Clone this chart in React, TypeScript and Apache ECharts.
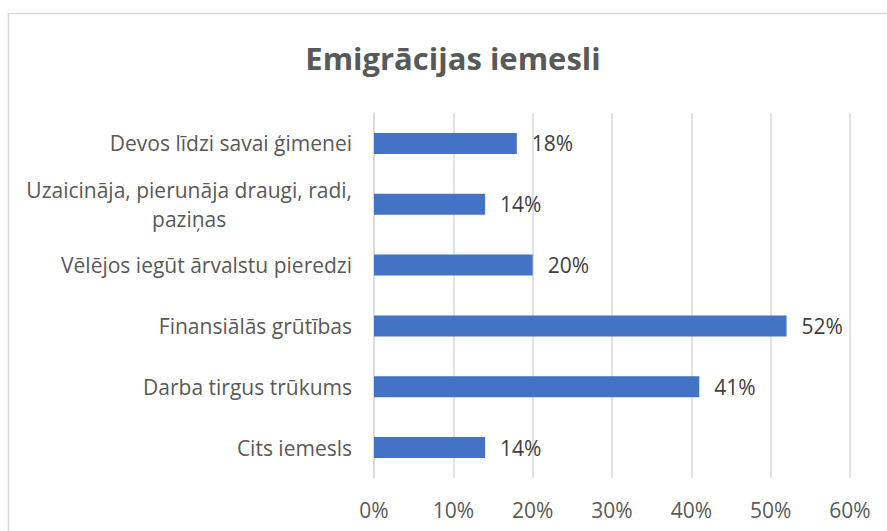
import React, { useEffect, useRef } from "react";
import * as echarts from "echarts";

const title = "Emigrācijas iemesli";
const categories = [
  "Devos līdzi savai ģimenei",
  "Uzaicināja, pierunāja draugi, radi, paziņas",
  "Vēlējos iegūt ārvalstu pieredzi",
  "Finansiālās grūtības",
  "Darba tirgus trūkums",
  "Cits iemesls",
];
const values = [18, 14, 20, 52, 41, 14];
const xTicks = [0, 10, 20, 30, 40, 50, 60];

const FONT = "'Open Sans', 'Noto Sans', sans-serif";
const TEXT = "#595959";
const GRID = "#d9d9d9";
const FS = 21;

function wrap(s: string, max: number): string[] {
  const words = s.split(" ");
  const lines: string[] = [];
  let cur = "";
  for (const w of words) {
    const next = cur ? cur + " " + w : w;
    if (next.length > max && cur) {
      lines.push(cur);
      cur = w;
    } else cur = next;
  }
  if (cur) lines.push(cur);
  return lines;
}

export default function App() {
  const ref = useRef<HTMLDivElement>(null);
  useEffect(() => {
    if (!ref.current) return;
    const chart = echarts.init(ref.current, null, { renderer: "svg" });
    chart.setOption({
      animation: false,
      backgroundColor: "#ffffff",
      title: {
        text: title,
        left: 448,
        textAlign: "center",
        top: 37,
        textStyle: { fontFamily: FONT, fontSize: 31, fontWeight: "bold", color: TEXT },
      },
      graphic: [
        {
          type: "rect",
          shape: { x: 8.5, y: 13.5, width: 920, height: 560 },
          style: { fill: "none", stroke: GRID, lineWidth: 1.5 },
          silent: true,
        },
      ],
      grid: { left: 374, right: 37, top: 113, bottom: 53, containLabel: false },
      xAxis: {
        type: "value",
        min: xTicks[0],
        max: xTicks[xTicks.length - 1],
        interval: 10,
        axisLine: { show: false },
        axisTick: { show: false },
        splitLine: { lineStyle: { color: GRID, width: 1.5 } },
        axisLabel: {
          formatter: (v: number) => v + "%",
          fontFamily: FONT,
          fontSize: FS,
          color: TEXT,
          margin: 21,
        },
      },
      yAxis: {
        type: "category",
        data: categories,
        inverse: true,
        axisLine: { lineStyle: { color: GRID, width: 1.5 } },
        axisTick: { length: 8, lineStyle: { color: GRID, width: 1.5 } },
        axisLabel: {
          margin: 22,
          fontFamily: FONT,
          fontSize: FS,
          color: TEXT,
          formatter: (v: string) => {
            const lines = wrap(v, 36);
            if (lines.length === 1) return v;
            return lines.map((l) => `{c|${l}}`).join("\n");
          },
          rich: {
            c: { align: "center", fontFamily: FONT, fontSize: FS, color: TEXT, lineHeight: 29 },
          },
        },
      },
      series: [
        {
          type: "bar",
          data: values,
          barWidth: 21,
          itemStyle: { color: "#4472C4" },
          label: {
            show: true,
            position: "right",
            distance: 15,
            formatter: (p: any) => p.value + "%",
            fontFamily: FONT,
            fontSize: FS,
            color: "#404040",
          },
        },
      ],
    });
    return () => chart.dispose();
  }, []);
  return (
    <div
      ref={ref}
      style={{ position: "fixed", left: 0, top: 0, width: 887, height: 531 }}
    />
  );
}
